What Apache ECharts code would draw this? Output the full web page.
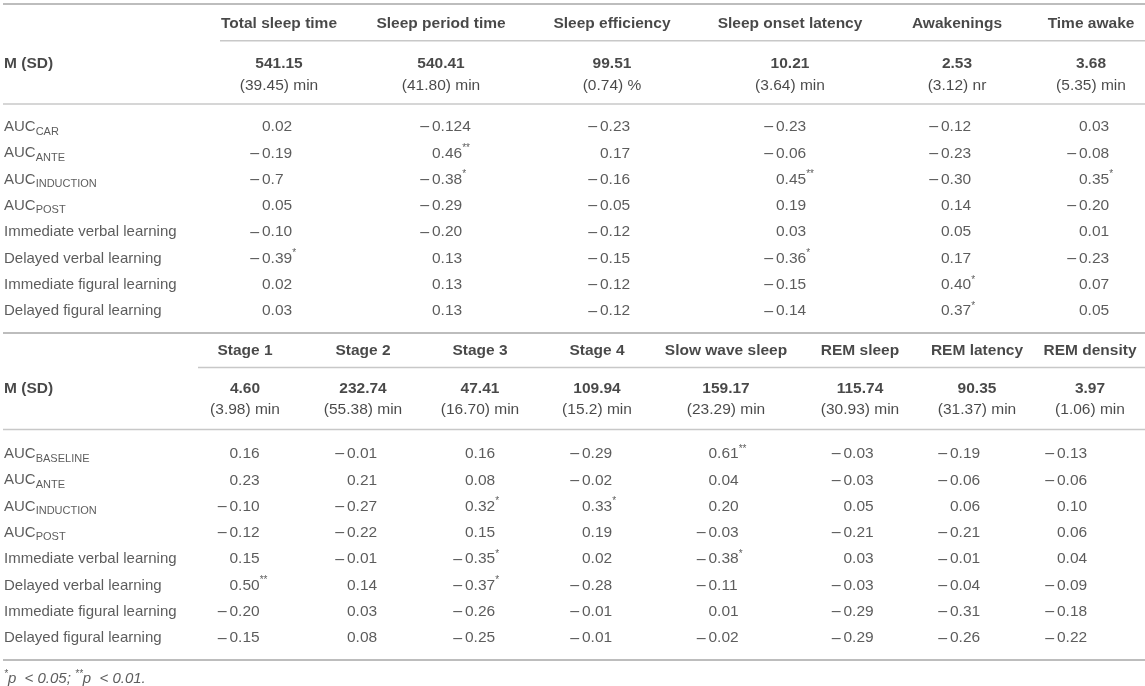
<!DOCTYPE html>
<html>
<head>
<meta charset="utf-8">
<script src="https://cdn.jsdelivr.net/npm/echarts@6/dist/echarts.min.js"></script>
<style>
  html, body { margin: 0; padding: 0; background: #fff; }
  #chart { width: 1145px; height: 686px; }
</style>
</head>
<body>
<div id="chart"></div>
<script>
// ---- data ----
const topColumns = ['Total sleep time', 'Sleep period time', 'Sleep efficiency', 'Sleep onset latency', 'Awakenings', 'Time awake'];
const topMeans = ['541.15', '540.41', '99.51', '10.21', '2.53', '3.68'];
const topSds = ['(39.45) min', '(41.80) min', '(0.74) %', '(3.64) min', '(3.12) nr', '(5.35) min'];
const topRows = [['AUC', 'CAR'], ['AUC', 'ANTE'], ['AUC', 'INDUCTION'], ['AUC', 'POST'],
  'Immediate verbal learning', 'Delayed verbal learning', 'Immediate figural learning', 'Delayed figural learning'];
const topValues = [
  ['0.02', '-0.124', '-0.23', '-0.23', '-0.12', '0.03'],
  ['-0.19', '0.46**', '0.17', '-0.06', '-0.23', '-0.08'],
  ['-0.7', '-0.38*', '-0.16', '0.45**', '-0.30', '0.35*'],
  ['0.05', '-0.29', '-0.05', '0.19', '0.14', '-0.20'],
  ['-0.10', '-0.20', '-0.12', '0.03', '0.05', '0.01'],
  ['-0.39*', '0.13', '-0.15', '-0.36*', '0.17', '-0.23'],
  ['0.02', '0.13', '-0.12', '-0.15', '0.40*', '0.07'],
  ['0.03', '0.13', '-0.12', '-0.14', '0.37*', '0.05']
];

const bottomColumns = ['Stage 1', 'Stage 2', 'Stage 3', 'Stage 4', 'Slow wave sleep', 'REM sleep', 'REM latency', 'REM density'];
const bottomMeans = ['4.60', '232.74', '47.41', '109.94', '159.17', '115.74', '90.35', '3.97'];
const bottomSds = ['(3.98) min', '(55.38) min', '(16.70) min', '(15.2) min', '(23.29) min', '(30.93) min', '(31.37) min', '(1.06) min'];
const bottomRows = [['AUC', 'BASELINE'], ['AUC', 'ANTE'], ['AUC', 'INDUCTION'], ['AUC', 'POST'],
  'Immediate verbal learning', 'Delayed verbal learning', 'Immediate figural learning', 'Delayed figural learning'];
const bottomValues = [
  ['0.16', '-0.01', '0.16', '-0.29', '0.61**', '-0.03', '-0.19', '-0.13'],
  ['0.23', '0.21', '0.08', '-0.02', '0.04', '-0.03', '-0.06', '-0.06'],
  ['-0.10', '-0.27', '0.32*', '0.33*', '0.20', '0.05', '0.06', '0.10'],
  ['-0.12', '-0.22', '0.15', '0.19', '-0.03', '-0.21', '-0.21', '0.06'],
  ['0.15', '-0.01', '-0.35*', '0.02', '-0.38*', '0.03', '-0.01', '0.04'],
  ['0.50**', '0.14', '-0.37*', '-0.28', '-0.11', '-0.03', '-0.04', '-0.09'],
  ['-0.20', '0.03', '-0.26', '-0.01', '0.01', '-0.29', '-0.31', '-0.18'],
  ['-0.15', '0.08', '-0.25', '-0.01', '-0.02', '-0.29', '-0.26', '-0.22']
];

const footnote = [['*', 'p'], ['**', 'p']];
const footnoteLimits = ['< 0.05;', '< 0.01.'];

// ---- layout ----
const W = 1145, H = 686;
const FONT = '"Liberation Sans", Arial, Helvetica, sans-serif';
const MINUS_W = 11.7;

const topLayout = {
  top: 4, header: 24, headRule: 40.7, headRuleStart: 220,
  mean: 63.5, sd: 86, sep: 104, row0: 127, step: 26.3,
  centers: [279, 441, 612, 790, 957, 1091],
  digits: [262, 432, 600, 776, 941, 1079]
};
const bottomLayout = {
  top: 333, header: 351, headRule: 367.5, headRuleStart: 198,
  mean: 388.5, sd: 410, sep: 429.5, row0: 454, step: 26.3,
  centers: [245, 363, 480, 597, 726, 860, 977, 1090],
  digits: [229.5, 347, 465, 582, 708.5, 843.5, 950, 1057]
};
const bottomRule = 660;
const footY = 679;

const rich = {
  m: { width: MINUS_W, fontSize: 16, lineHeight: 20, color: '#333', fontFamily: FONT },
  n: { fontSize: 15.5, lineHeight: 20, color: '#333', fontFamily: FONT },
  s: { fontSize: 10, lineHeight: 12, verticalAlign: 'top', color: '#333', fontFamily: FONT },
  t: { fontSize: 15, lineHeight: 20, color: '#333', fontFamily: FONT },
  b: { fontSize: 11, lineHeight: 11, verticalAlign: 'bottom', color: '#333', fontFamily: FONT },
  fi: { fontSize: 15, lineHeight: 20, fontStyle: 'italic', color: '#333', fontFamily: FONT },
  fs: { fontSize: 10, lineHeight: 12, verticalAlign: 'top', fontStyle: 'italic', color: '#333', fontFamily: FONT }
};

function cell(x, y, text, extra) {
  return {
    value: [x, y],
    label: Object.assign({
      show: true, position: 'inside', align: 'left', verticalAlign: 'middle',
      fontFamily: FONT, fontSize: 15, color: '#333', rich: rich,
      formatter: function () { return text; }
    }, extra || {})
  };
}

function numberText(v) {
  const m = /^(-?)([\d.]+)(\**)$/.exec(v);
  let out = (m[1] ? '{m|\u2013}' : '{m| }') + '{n|' + m[2] + '}';
  if (m[3]) out += '{s|' + m[3] + '}';
  return out;
}

function rowText(r) {
  if (Array.isArray(r)) return '{t|' + r[0] + '}{b|' + r[1] + '}';
  return '{t|' + r + '}';
}

function buildTable(L, columns, means, sds, rows, values) {
  const cells = [];
  columns.forEach(function (c, j) {
    const bold = { align: 'center', fontWeight: 'bold', fontSize: 15.5, color: '#1a1a1a' };
    cells.push(cell(L.centers[j], L.header, c, bold));
    cells.push(cell(L.centers[j], L.mean, means[j], bold));
    cells.push(cell(L.centers[j], L.sd, sds[j], { align: 'center', fontSize: 15.5, color: '#1a1a1a' }));
  });
  cells.push(cell(4, (L.mean + L.sd) / 2 - 11, 'M (SD)', { fontWeight: 'bold', fontSize: 15.5, color: '#1a1a1a' }));
  rows.forEach(function (r, i) {
    const y = L.row0 + i * L.step;
    cells.push(cell(4, y, rowText(r)));
    values[i].forEach(function (v, j) {
      cells.push(cell(L.digits[j] - MINUS_W, y, numberText(v)));
    });
  });
  return cells;
}

const cells = buildTable(topLayout, topColumns, topMeans, topSds, topRows, topValues)
  .concat(buildTable(bottomLayout, bottomColumns, bottomMeans, bottomSds, bottomRows, bottomValues));

let foot = '';
footnote.forEach(function (f, k) {
  foot += '{fs|' + f[0] + '}{fi|' + f[1] + '  ' + footnoteLimits[k] + (k === 0 ? ' ' : '') + '}';
});
cells.push(cell(4, footY, foot));

// horizontal rules
const rules = [
  { y: topLayout.top, x1: 3, x2: W, w: 2, c: '#bdbdbd' },
  { y: topLayout.headRule, x1: topLayout.headRuleStart, x2: W, w: 1.5, c: '#c8c8c8' },
  { y: topLayout.sep, x1: 3, x2: W, w: 1.5, c: '#c8c8c8' },
  { y: bottomLayout.top, x1: 3, x2: W, w: 2, c: '#bdbdbd' },
  { y: bottomLayout.headRule, x1: bottomLayout.headRuleStart, x2: W, w: 1.5, c: '#c8c8c8' },
  { y: bottomLayout.sep, x1: 3, x2: W, w: 1.5, c: '#c8c8c8' },
  { y: bottomRule, x1: 3, x2: W, w: 2, c: '#bdbdbd' }
];

const series = rules.map(function (r) {
  return {
    type: 'line', silent: true, symbol: 'none', animation: false, z: 1,
    data: [[r.x1, r.y], [r.x2, r.y]],
    lineStyle: { color: r.c, width: r.w }
  };
});
series.push({
  type: 'scatter', silent: true, animation: false, z: 5,
  symbolSize: 1, itemStyle: { color: 'rgba(0,0,0,0)' },
  data: cells
});

const chart = echarts.init(document.getElementById('chart'), null, { renderer: 'canvas' });
chart.setOption({
  backgroundColor: '#fff',
  animation: false,
  grid: { left: 0, right: 0, top: 0, bottom: 0 },
  xAxis: { type: 'value', min: 0, max: W, show: false },
  yAxis: { type: 'value', min: 0, max: H, inverse: true, show: false },
  series: series
});
</script>
</body>
</html>
